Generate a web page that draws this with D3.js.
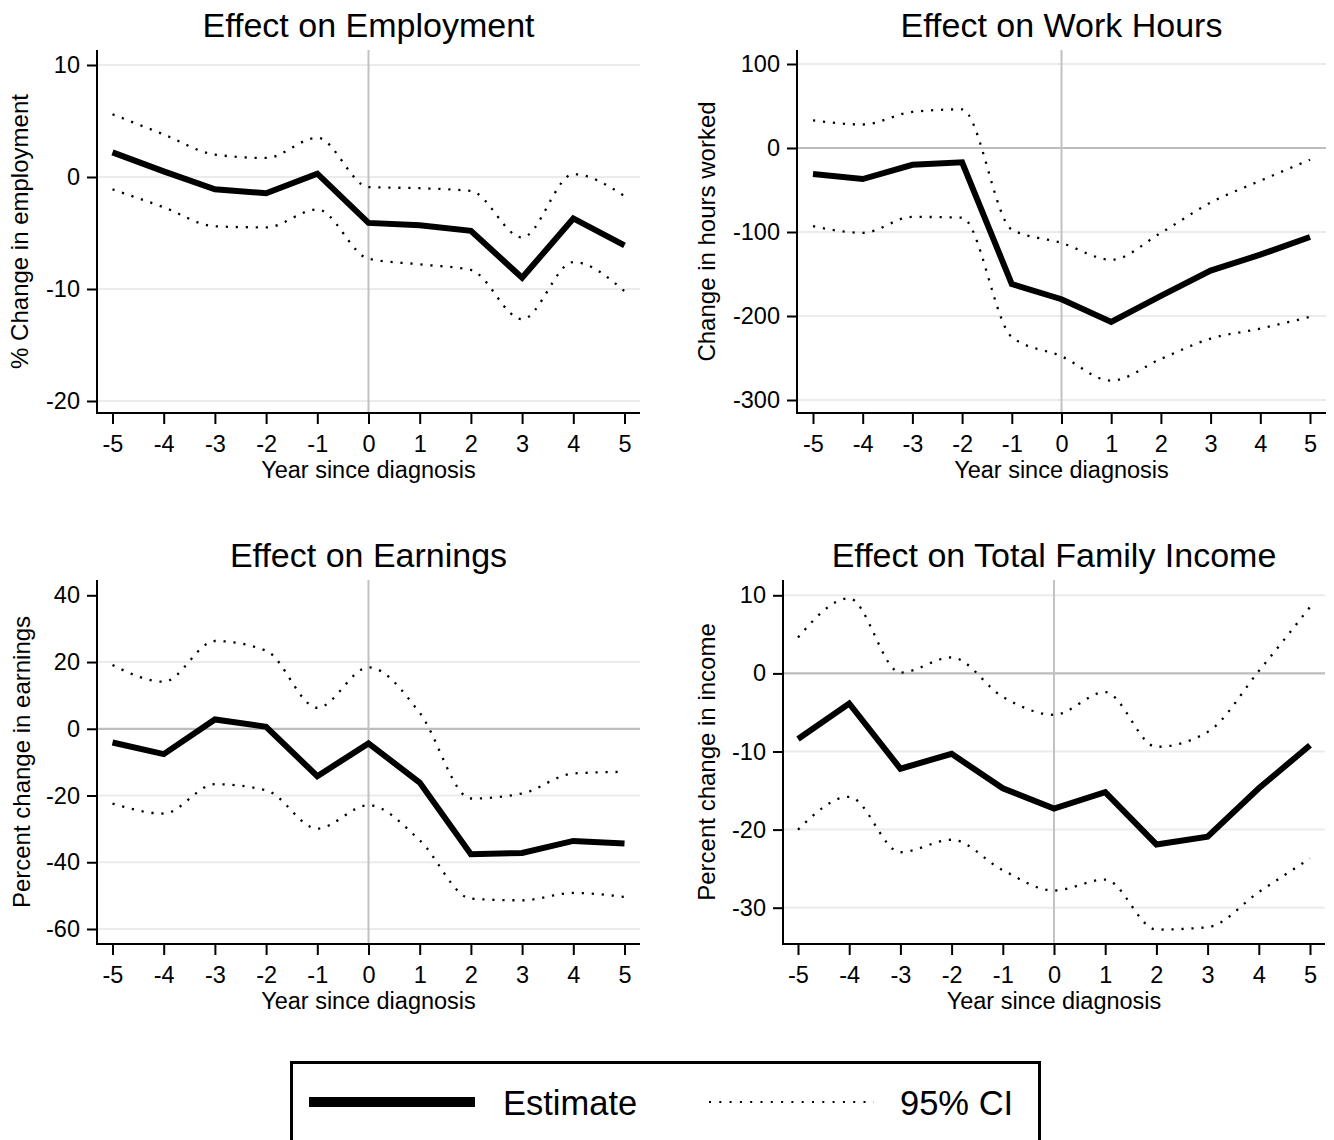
<!DOCTYPE html>
<html>
<head>
<meta charset="utf-8">
<script src="https://cdn.jsdelivr.net/npm/d3@7"></script>
<style>
  html, body { margin: 0; padding: 0; background: #fff; }
  svg { display: block; }
  text { font-family: "Liberation Sans", Arial, Helvetica, sans-serif; fill: #000; }
</style>
</head>
<body>
<svg id="chart" width="1334" height="1140"></svg>
<script>
// Event-study estimates around the year of diagnosis, with 95% confidence bounds
const years = [-5, -4, -3, -2, -1, 0, 1, 2, 3, 4, 5];

const employmentEstimate = [2.2, 0.5, -1.1, -1.45, 0.3, -4.1, -4.3, -4.8, -9.0, -3.7, -6.1];
const employmentUpper    = [5.6, 3.8, 2.0, 1.7, 3.5, -0.9, -1.0, -1.25, -5.4, 0.25, -1.7];
const employmentLower    = [-1.1, -2.7, -4.4, -4.5, -2.9, -7.3, -7.8, -8.3, -12.7, -7.6, -10.2];

const hoursEstimate = [-31, -37, -20, -17, -162, -180, -207, -176, -146, -127, -106];
const hoursUpper    = [33, 28, 43, 46, -97, -113, -133, -101, -65, -39, -14];
const hoursLower    = [-93, -101, -82, -83, -225, -248, -277, -251, -227, -215, -201];

const earningsEstimate = [-4.1, -7.6, 2.8, 0.6, -14.2, -4.4, -16.1, -37.6, -37.2, -33.6, -34.4];
const earningsUpper    = [19.1, 14.1, 26.3, 23.4, 6.3, 18.4, 4.8, -20.9, -19.4, -13.4, -12.9];
const earningsLower    = [-22.4, -25.4, -16.6, -18.4, -29.9, -22.9, -33.4, -50.9, -51.4, -49.2, -50.4];

const incomeEstimate = [-8.4, -3.85, -12.2, -10.3, -14.7, -17.3, -15.2, -21.9, -20.9, -14.7, -9.2];
const incomeUpper    = [4.6, 9.6, 0.1, 2.05, -3.0, -5.3, -2.4, -9.4, -7.5, 0.3, 8.5];
const incomeLower    = [-20.0, -15.8, -22.9, -21.3, -25.2, -27.8, -26.4, -32.8, -32.5, -28.0, -23.7];

const panelTitles = ["Effect on Employment", "Effect on Work Hours", "Effect on Earnings", "Effect on Total Family Income"];
const yAxisTitles = ["% Change in employment", "Change in hours worked", "Percent change in earnings", "Percent change in income"];
const xAxisTitle = "Year since diagnosis";

const employmentTicks = [-20, -10, 0, 10];
const hoursTicks      = [-300, -200, -100, 0, 100];
const earningsTicks   = [-60, -40, -20, 0, 20, 40];
const incomeTicks     = [-30, -20, -10, 0, 10];

const legendLabels = ["Estimate", "95% CI"];

const panels = [
  { title: panelTitles[0], yTitle: yAxisTitles[0], ticks: employmentTicks,
    est: employmentEstimate, up: employmentUpper, lo: employmentLower },
  { title: panelTitles[1], yTitle: yAxisTitles[1], ticks: hoursTicks,
    est: hoursEstimate, up: hoursUpper, lo: hoursLower },
  { title: panelTitles[2], yTitle: yAxisTitles[2], ticks: earningsTicks,
    est: earningsEstimate, up: earningsUpper, lo: earningsLower },
  { title: panelTitles[3], yTitle: yAxisTitles[3], ticks: incomeTicks,
    est: incomeEstimate, up: incomeUpper, lo: incomeLower }
];

// Frame geometry of each plot region
const layout = [
  { left: 97,  right: 640,  top: 50,  bottom: 413, pad: 15.5, yLow: 401,   yHigh: 65,    titleY: 37,  yTitleX: 28,  zeroRef: false, noGrid: [] },
  { left: 797, right: 1326, top: 50,  bottom: 413, pad: 16,   yLow: 400,   yHigh: 64,    titleY: 37,  yTitleX: 715, zeroRef: true,  noGrid: [] },
  { left: 97,  right: 640,  top: 580, bottom: 944, pad: 15.5, yLow: 929,   yHigh: 595.3, titleY: 567, yTitleX: 30,  zeroRef: true,  noGrid: [40] },
  { left: 783, right: 1325, top: 580, bottom: 944, pad: 15,   yLow: 907.7, yHigh: 595.3, titleY: 567, yTitleX: 715, zeroRef: true,  noGrid: [] }
];

const svg = d3.select("#chart");
svg.append("rect").attr("width", 1334).attr("height", 1140).attr("fill", "#fff");

const fmt = d => String(d);

panels.forEach((p, i) => {
  const L = layout[i];
  const g = svg.append("g");

  const x = d3.scaleLinear().domain([-5, 5]).range([L.left + L.pad, L.right - L.pad]);
  const y = d3.scaleLinear().domain([d3.min(p.ticks), d3.max(p.ticks)]).range([L.yLow, L.yHigh]);

  // horizontal grid lines
  g.append("g").selectAll("line")
    .data(p.ticks.filter(t => !L.noGrid.includes(t) && !(L.zeroRef && t === 0)))
    .join("line")
    .attr("x1", L.left).attr("x2", L.right)
    .attr("y1", d => y(d)).attr("y2", d => y(d))
    .attr("stroke", "#ebebeb").attr("stroke-width", 2);

  // reference line at zero
  if (L.zeroRef) {
    g.append("line")
      .attr("x1", L.left).attr("x2", L.right)
      .attr("y1", y(0)).attr("y2", y(0))
      .attr("stroke", "#bdbdbd").attr("stroke-width", 2.2);
  }

  // year of diagnosis marker
  g.append("line")
    .attr("x1", x(0)).attr("x2", x(0))
    .attr("y1", L.top).attr("y2", L.bottom)
    .attr("stroke", "#c2c2c2").attr("stroke-width", 2);

  // confidence bounds (smoothed, dotted)
  const ciLine = d3.line()
    .x((d, k) => x(years[k]))
    .y(d => y(d))
    .curve(d3.curveMonotoneX);

  [p.up, p.lo].forEach(series => {
    g.append("path")
      .attr("d", ciLine(series))
      .attr("fill", "none")
      .attr("stroke", "#000")
      .attr("stroke-width", 2.3)
      .attr("stroke-dasharray", "2.2,7.8");
  });

  // point estimates
  const estLine = d3.line()
    .x((d, k) => x(years[k]))
    .y(d => y(d));

  g.append("path")
    .attr("d", estLine(p.est))
    .attr("fill", "none")
    .attr("stroke", "#000")
    .attr("stroke-width", 6)
    .attr("stroke-linejoin", "miter")
    .attr("stroke-miterlimit", 3);

  // axes
  const yAxis = d3.axisLeft(y).tickValues(p.ticks).tickSize(10).tickPadding(7).tickFormat(fmt);
  const yg = g.append("g").attr("transform", `translate(${L.left},0)`).call(yAxis);
  yg.select(".domain").remove();

  const xAxis = d3.axisBottom(x).tickValues(years).tickSize(11).tickPadding(12).tickFormat(fmt);
  const xg = g.append("g").attr("transform", `translate(0,${L.bottom})`).call(xAxis);
  xg.select(".domain").remove();

  [yg, xg].forEach(ax => {
    ax.selectAll(".tick line").attr("stroke", "#000").attr("stroke-width", 2);
    ax.selectAll(".tick text")
      .style("font-family", "'Liberation Sans', Arial, Helvetica, sans-serif")
      .style("font-size", "23.5px").attr("fill", "#000");
  });
  xg.selectAll(".tick text").attr("y", 22).attr("dy", "0.71em");

  g.append("line")
    .attr("x1", L.left).attr("x2", L.left)
    .attr("y1", L.top).attr("y2", L.bottom + 1)
    .attr("stroke", "#000").attr("stroke-width", 2);
  g.append("line")
    .attr("x1", L.left - 1).attr("x2", L.right)
    .attr("y1", L.bottom).attr("y2", L.bottom)
    .attr("stroke", "#000").attr("stroke-width", 2);

  // titles
  g.append("text")
    .attr("x", (L.left + L.right) / 2).attr("y", L.titleY)
    .attr("text-anchor", "middle")
    .style("font-size", "34px")
    .text(p.title);

  g.append("text")
    .attr("x", (L.left + L.right) / 2).attr("y", L.bottom + 65)
    .attr("text-anchor", "middle")
    .style("font-size", "23.5px")
    .text(xAxisTitle);

  g.append("text")
    .attr("transform", `translate(${L.yTitleX},${(L.top + L.bottom) / 2}) rotate(-90)`)
    .attr("text-anchor", "middle")
    .style("font-size", "24px")
    .text(p.yTitle);
});

// legend
const lg = svg.append("g");
lg.append("rect")
  .attr("x", 291.5).attr("y", 1062.5)
  .attr("width", 748).attr("height", 120)
  .attr("fill", "#fff").attr("stroke", "#000").attr("stroke-width", 3);

lg.append("line")
  .attr("x1", 309).attr("x2", 475).attr("y1", 1102).attr("y2", 1102)
  .attr("stroke", "#000").attr("stroke-width", 10);
lg.append("text")
  .attr("x", 503).attr("y", 1115)
  .style("font-size", "34.5px")
  .text(legendLabels[0]);

lg.append("line")
  .attr("x1", 709).attr("x2", 874).attr("y1", 1102).attr("y2", 1102)
  .attr("stroke", "#000").attr("stroke-width", 2.2)
  .attr("stroke-dasharray", "2,8.3");
lg.append("text")
  .attr("x", 900).attr("y", 1115)
  .style("font-size", "34.5px")
  .text(legendLabels[1]);
</script>
</body>
</html>
